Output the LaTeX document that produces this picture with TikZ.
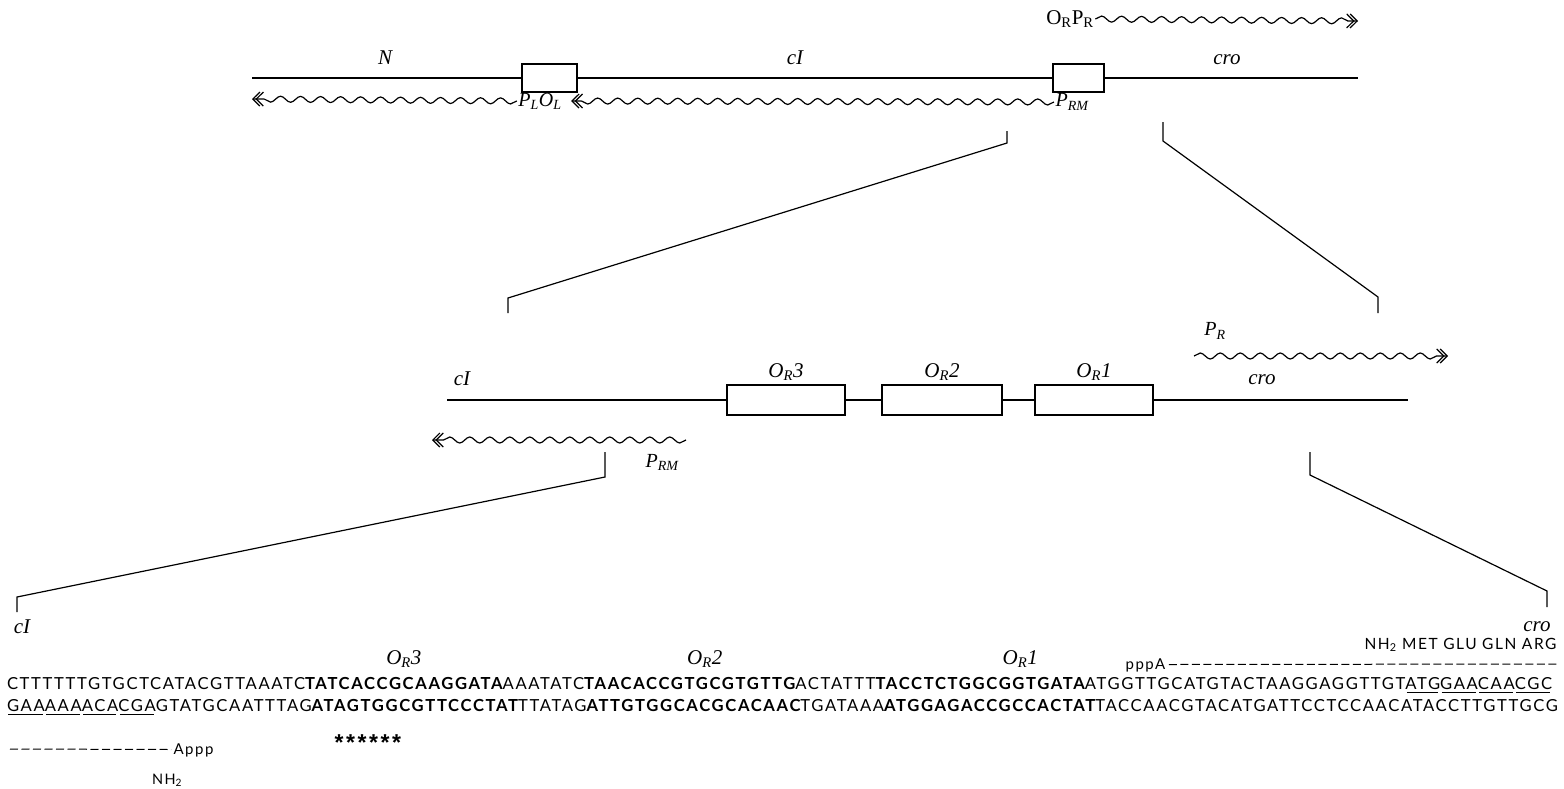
\documentclass[tikz,border=0pt]{standalone}
\usepackage{fontspec}
\setmainfont{Liberation Serif}
\newfontfamily\seqfont{Lato}[LetterSpace=10]
\newfontfamily\astfont{Liberation Sans}
\usetikzlibrary{positioning,arrows.meta,decorations.pathmorphing}

% underlined codon with a small gap on each side
\newcommand{\cdn}[1]{\setbox0=\hbox{#1}\rlap{\hspace{1.5pt}\rule[-3.5pt]{\dimexpr\wd0-3.5pt\relax}{0.8pt}}\box0}

\tikzset{
  gene/.style={font=\fontsize{21}{24}\selectfont\itshape,inner sep=1pt},
  prom/.style={font=\fontsize{20}{24}\selectfont\itshape,inner sep=1pt},
  opbox/.style={draw,minimum height=28pt,inner sep=0pt},
  wave/.style={decorate,decoration={snake,amplitude=3pt,segment length=20pt,post length=7pt}},
  tipR/.style={-{Straight Barb[length=7pt,width=14pt,sep=-5pt]Straight Barb[length=7pt,width=14pt]}},
  seq/.style={font=\seqfont\fontsize{16.6}{18}\selectfont,inner sep=0pt,outer sep=0pt,anchor=base west},
  seqb/.style={seq,font=\seqfont\bfseries\fontsize{16.6}{18}\selectfont},
  small/.style={font=\seqfont\fontsize{14.5}{16}\selectfont,inner sep=0pt},
  rnadash/.style={dash pattern=on 8pt off 3.5pt,line width=1pt},
  astk/.style={font=\astfont\bfseries\fontsize{23}{24}\selectfont,inner sep=0pt,anchor=base}
}

\begin{document}
\begin{tikzpicture}[x=1pt,y=-1pt,line width=1.2pt]
\useasboundingbox (0,0) rectangle (1564,788);

% --- top: N cI cro map
\coordinate (tL) at (252,78);
\coordinate (tR) at (1358,78);
\node[opbox,minimum width=55pt] (bL) at (549.5,78) {};
\node[opbox,minimum width=51pt] (bR) at (1078.5,78) {};
\draw (tL) -- (bL) (bL) -- (bR) (bR) -- (tR);
\node[gene] (gN) at (385,58) {N};
\node[gene] (gcI) at (795,58) {cI};
\node[gene] (gcro) at (1227,60) {cro};

\node[font=\fontsize{21}{24}\selectfont,inner sep=1pt] (orpr) at (1070,19) {O\textsubscript{R}P\textsubscript{R}};
\coordinate (orprEnd) at (1358,21);
\draw[wave,tipR] (orpr.east) -- (orprEnd);

\node[prom] (plol) at (540,101) {P\textsubscript{L}O\textsubscript{L}};
\node[prom] (prmA) at (1072,102) {P\textsubscript{RM}};
\coordinate (plEnd) at (252,99);
\draw[wave,tipR] (plol.west) -- (plEnd);
\draw[wave,tipR] (prmA.west) -- ([xshift=8pt]plol.east);

% blow-up lines
\coordinate (e1a) at (1007,131);
\coordinate (e1b) at (1007,143);
\coordinate (e1c) at (508,298);
\coordinate (e1d) at (508,313);
\draw (e1a) -- (e1b) -- (e1c) -- (e1d);
\coordinate (e2a) at (1163,122);
\coordinate (e2b) at (1163,141);
\coordinate (e2c) at (1378,297);
\coordinate (e2d) at (1378,313);
\draw (e2a) -- (e2b) -- (e2c) -- (e2d);

% --- middle: operator region
\coordinate (mL) at (447,400);
\coordinate (mR) at (1408,400);
\node[opbox,minimum width=118pt,minimum height=30pt] (o3) at (786,400) {};
\node[opbox,minimum width=120pt,minimum height=30pt] (o2) at (942,400) {};
\node[opbox,minimum width=118pt,minimum height=30pt] (o1) at (1094,400) {};
\draw (mL) -- (o3) (o3) -- (o2) (o2) -- (o1) (o1) -- (mR);
\node[gene,above=2pt of o3] (lo3) {O\textsubscript{R}3};
\node[gene,above=2pt of o2] (lo2) {O\textsubscript{R}2};
\node[gene,above=2pt of o1] (lo1) {O\textsubscript{R}1};
\node[gene] (mcI) at (462,379) {cI};
\node[gene] (mcro) at (1262,380) {cro};

\coordinate (prS) at (1194,356);
\coordinate (prE) at (1448,356);
\draw[wave,tipR] (prS) -- (prE);
\node[prom] (prB) at (1215,331) {P\textsubscript{R}};

\coordinate (rmS) at (686,440);
\coordinate (rmE) at (432,440);
\draw[wave,tipR] (rmS) -- (rmE);
\node[prom] (prmB) at (662,462) {P\textsubscript{RM}};

\coordinate (e3a) at (605,452);
\coordinate (e3b) at (605,477);
\coordinate (e3c) at (17,597);
\coordinate (e3d) at (17,612);
\draw (e3a) -- (e3b) -- (e3c) -- (e3d);
\coordinate (e4a) at (1310,452);
\coordinate (e4b) at (1310,475);
\coordinate (e4c) at (1547,591);
\coordinate (e4d) at (1547,607);
\draw (e4a) -- (e4b) -- (e4c) -- (e4d);
\node[gene] (bcI) at (22,627) {cI};
\node[gene] (bcro) at (1537,627) {cro};

% --- bottom: sequence
\node[seq]  (s1a) at (7,689) {CTTTTTTGTGCTCATACGTTAAATC};
\node[seqb] (s1b) at (s1a.base east) {TATCACCGCAAGGATA};
\node[seq]  (s1c) at (s1b.base east) {AAATATC};
\node[seqb] (s1d) at (s1c.base east) {TAACACCGTGCGTGTTG};
\node[seq]  (s1e) at (s1d.base east) {ACTATTT};
\node[seqb] (s1f) at (s1e.base east) {TACCTCTGGCGGTGATA};
\node[seq]  (s1g) at (s1f.base east) {ATGGTTGCATGTACTAAGGAGGTTGT};
\node[seq]  (s1h) at (s1g.base east) {\cdn{ATG}\cdn{GAA}\cdn{CAA}\cdn{CGC}};

\node[seq]  (s2a) at (7,711) {\cdn{GAA}\cdn{AAA}\cdn{ACA}\cdn{CGA}GTATGCAATTTAG};
\node[seqb] (s2b) at (s2a.base east) {ATAGTGGCGTTCCCTAT};
\node[seq]  (s2c) at (s2b.base east) {TTATAG};
\node[seqb] (s2d) at (s2c.base east) {ATTGTGGCACGCACAAC};
\node[seq]  (s2e) at (s2d.base east) {TGATAAA};
\node[seqb] (s2f) at (s2e.base east) {ATGGAGACCGCCACTAT};
\node[seq]  (s2g) at (s2f.base east) {TACCAACGTACATGATTCCTCCAACATACCTTGTTGCG};

\node[gene,above=8pt of s1b] (q3) {O\textsubscript{R}3};
\node[gene,above=8pt of s1d,xshift=15pt] (q2) {O\textsubscript{R}2};
\node[gene,above=8pt of s1f,xshift=40pt] (q1) {O\textsubscript{R}1};

\node[small,anchor=base east,font=\seqfont\fontsize{15.5}{16}\selectfont] (prot) at (1557,649) {NH\textsubscript{2} MET GLU GLN ARG};
\node[small,anchor=base west,font=\seqfont\fontsize{15}{16}\selectfont] (pppA) at (1125,669) {pppA};
\coordinate (pppEnd) at (1557,664);
\draw[rnadash] ([yshift=4.5pt,xshift=3pt]pppA.base east) -- (pppEnd);

\node[small,anchor=base west,font=\seqfont\fontsize{15}{16}\selectfont] (Appp) at (173,754) {Appp};
\coordinate (apppStart) at (10,749);
\draw[rnadash] (apppStart) -- ([yshift=4.5pt,xshift=-2pt]Appp.base west);
\node[small,anchor=base] (nh) at (167,784) {NH\textsubscript{2}};

\foreach \i in {0,...,5}
  \node[astk] (ast\i) at (339+11.5*\i,750) {*};
\end{tikzpicture}
\end{document}
